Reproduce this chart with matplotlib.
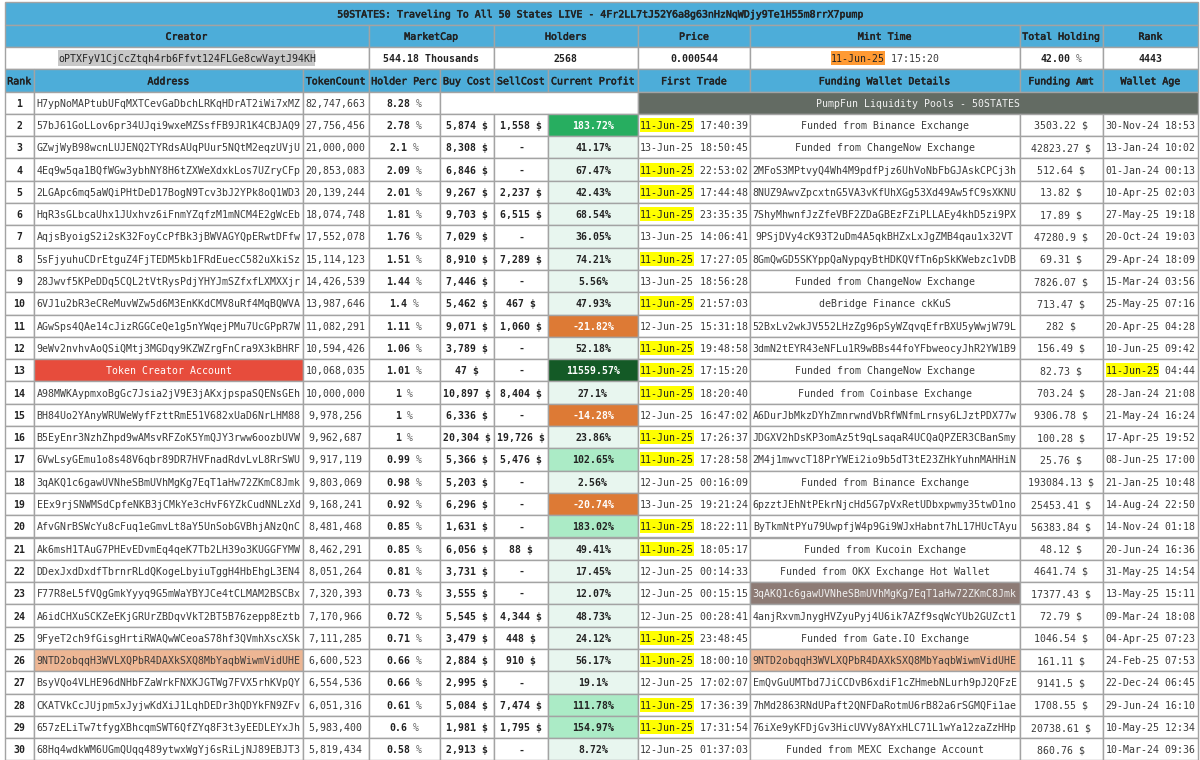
"""
Redraw the 50STATES token holder table as a matplotlib figure.
"""

import matplotlib

matplotlib.use("Agg")
import matplotlib.patheffects as path_effects
import matplotlib.pyplot as plt
from matplotlib.patches import Rectangle

TITLE = "50STATES: Traveling To All 50 States LIVE - 4Fr2LL7tJ52Y6a8g63nHzNqWDjy9Te1H55m8rrX7pump"

summary_headers = ["Creator", "MarketCap", "Holders", "Price", "Mint Time", "Total Holding", "Rank"]
creator = "oPTXFyV1CjCcZtqh4rb6Ffvt124FLGe8cwVaytJ94KH"
market_cap = "544.18 Thousands"
holders = "2568"
price = "0.000544"
mint_time = "11-Jun-25 17:15:20"
total_holding = "42.00"
token_rank = "4443"

table_headers = ["Rank", "Address", "TokenCount", "Holder Perc", "Buy Cost", "SellCost",
                 "Current Profit", "First Trade", "Funding Wallet Details", "Funding Amt", "Wallet Age"]

pool_label = "PumpFun Liquidity Pools - 50STATES"
creator_label = "Token Creator Account"

addresses = [
    "H7ypNoMAPtubUFqMXTCevGaDbchLRKqHDrAT2iWi7xMZ", "57bJ61GoLLov6pr34UJqi9wxeMZSsfFB9JR1K4CBJAQ9",
    "GZwjWyB98wcnLUJENQ2TYRdsAUqPUur5NQtM2eqzUVjU", "4Eq9w5qa1BQfWGw3ybhNY8H6tZXWeXdxkLos7UZryCFp",
    "2LGApc6mq5aWQiPHtDeD17BogN9Tcv3bJ2YPk8oQ1WD3", "HqR3sGLbcaUhx1JUxhvz6iFnmYZqfzM1mNCM4E2gWcEb",
    "AqjsByoigS2i2sK32FoyCcPfBk3jBWVAGYQpERwtDFfw", "5sFjyuhuCDrEtguZ4FjTEDM5kb1FRdEuecC582uXkiSz",
    "28Jwvf5KPeDDq5CQL2tVtRysPdjYHYJmSZfxfLXMXXjr", "6VJ1u2bR3eCReMuvWZw5d6M3EnKKdCMV8uRf4MqBQWVA",
    "AGwSps4QAe14cJizRGGCeQe1g5nYWqejPMu7UcGPpR7W", "9eWv2nvhvAoQSiQMtj3MGDqy9KZWZrgFnCra9X3kBHRF",
    creator_label, "A98MWKAypmxoBgGc7Jsia2jV9E3jAKxjpspaSQENsGEh",
    "BH84Uo2YAnyWRUWeWyfFzttRmE51V682xUaD6NrLHM88", "B5EyEnr3NzhZhpd9wAMsvRFZoK5YmQJY3rww6oozbUVW",
    "6VwLsyGEmu1o8s48V6qbr89DR7HVFnadRdvLvL8RrSWU", "3qAKQ1c6gawUVNheSBmUVhMgKg7EqT1aHw72ZKmC8Jmk",
    "EEx9rjSNWMSdCpfeNKB3jCMkYe3cHvF6YZkCudNNLzXd", "AfvGNrBSWcYu8cFuq1eGmvLt8aY5UnSobGVBhjANzQnC",
    "Ak6msH1TAuG7PHEvEDvmEq4qeK7Tb2LH39o3KUGGFYMW", "DDexJxdDxdfTbrnrRLdQKogeLbyiuTggH4HbEhgL3EN4",
    "F77R8eL5fVQgGmkYyyq9G5mWaYBYJCe4tCLMAM2BSCBx", "A6idCHXuSCKZeEKjGRUrZBDqvVkT2BT5B76zepp8Eztb",
    "9FyeT2ch9fGisgHrtiRWAQwWCeoaS78hf3QVmhXscXSk", "9NTD2obqqH3WVLXQPbR4DAXkSXQ8MbYaqbWiwmVidUHE",
    "BsyVQo4VLHE96dNHbFZaWrkFNXKJGTWg7FVX5rhKVpQY", "CKATVkCcJUjpm5xJyjwKdXiJ1LqhDEDr3hQDYkFN9ZFv",
    "657zELiTw7tfygXBhcqmSWT6QfZYq8F3t3yEEDLEYxJh", "68Hq4wdkWM6UGmQUqq489ytwxWgYj6sRiLjNJ89EBJT3",
]
token_counts = [
    "82,747,663", "27,756,456", "21,000,000", "20,853,083", "20,139,244", "18,074,748",
    "17,552,078", "15,114,123", "14,426,539", "13,987,646", "11,082,291", "10,594,426",
    "10,068,035", "10,000,000", "9,978,256", "9,962,687", "9,917,119", "9,803,069",
    "9,168,241", "8,481,468", "8,462,291", "8,051,264", "7,320,393", "7,170,966",
    "7,111,285", "6,600,523", "6,554,536", "6,051,316", "5,983,400", "5,819,434",
]
holder_percs = [
    "8.28", "2.78", "2.1", "2.09", "2.01", "1.81", "1.76", "1.51", "1.44", "1.4",
    "1.11", "1.06", "1.01", "1", "1", "1", "0.99", "0.98", "0.92", "0.85",
    "0.85", "0.81", "0.73", "0.72", "0.71", "0.66", "0.66", "0.61", "0.6", "0.58",
]
buy_costs = [
    None, "5,874", "8,308", "6,846", "9,267", "9,703", "7,029", "8,910", "7,446", "5,462",
    "9,071", "3,789", "47", "10,897", "6,336", "20,304", "5,366", "5,203", "6,296", "1,631",
    "6,056", "3,731", "3,555", "5,545", "3,479", "2,884", "2,995", "5,084", "1,981", "2,913",
]
sell_costs = [
    None, "1,558", None, None, "2,237", "6,515", None, "7,289", None, "467",
    "1,060", None, None, "8,404", None, "19,726", "5,476", None, None, None,
    "88", None, None, "4,344", "448", "910", None, "7,474", "1,795", None,
]
profits = [
    None, "183.72", "41.17", "67.47", "42.43", "68.54", "36.05", "74.21", "5.56", "47.93",
    "-21.82", "52.18", "11559.57", "27.1", "-14.28", "23.86", "102.65", "2.56", "-20.74", "183.02",
    "49.41", "17.45", "12.07", "48.73", "24.12", "56.17", "19.1", "111.78", "154.97", "8.72",
]
first_trades = [
    None, "11-Jun-25 17:40:39", "13-Jun-25 18:50:45", "11-Jun-25 22:53:02", "11-Jun-25 17:44:48",
    "11-Jun-25 23:35:35", "13-Jun-25 14:06:41", "11-Jun-25 17:27:05", "13-Jun-25 18:56:28",
    "11-Jun-25 21:57:03", "12-Jun-25 15:31:18", "11-Jun-25 19:48:58", "11-Jun-25 17:15:20",
    "11-Jun-25 18:20:40", "12-Jun-25 16:47:02", "11-Jun-25 17:26:37", "11-Jun-25 17:28:58",
    "12-Jun-25 00:16:09", "13-Jun-25 19:21:24", "11-Jun-25 18:22:11", "11-Jun-25 18:05:17",
    "12-Jun-25 00:14:33", "12-Jun-25 00:15:15", "12-Jun-25 00:28:41", "11-Jun-25 23:48:45",
    "11-Jun-25 18:00:10", "12-Jun-25 17:02:07", "11-Jun-25 17:36:39", "11-Jun-25 17:31:54",
    "12-Jun-25 01:37:03",
]
funding_details = [
    None, "Funded from Binance Exchange", "Funded from ChangeNow Exchange",
    "2MFoS3MPtvyQ4Wh4M9pdfPjz6UhVoNbFbGJAskCPCj3h", "8NUZ9AwvZpcxtnG5VA3vKfUhXGg53Xd49Aw5fC9sXKNU",
    "7ShyMhwnfJzZfeVBF2ZDaGBEzFZiPLLAEy4khD5zi9PX", "9PSjDVy4cK93T2uDm4A5qkBHZxLxJgZMB4qau1x32VT",
    "8GmQwGD5SKYppQaNypqyBtHDKQVfTn6pSkKWebzc1vDB", "Funded from ChangeNow Exchange",
    "deBridge Finance ckKuS", "52BxLv2wkJV552LHzZg96pSyWZqvqEfrBXU5yWwjW79L",
    "3dmN2tEYR43eNFLu1R9wBBs44foYFbweocyJhR2YW1B9", "Funded from ChangeNow Exchange",
    "Funded from Coinbase Exchange", "A6DurJbMkzDYhZmnrwndVbRfWNfmLrnsy6LJztPDX77w",
    "JDGXV2hDsKP3omAz5t9qLsaqaR4UCQaQPZER3CBanSmy", "2M4j1mwvcT18PrYWEi2io9b5dT3tE23ZHkYuhnMAHHiN",
    "Funded from Binance Exchange", "6pzztJEhNtPEkrNjcHd5G7pVxRetUDbxpwmy35twD1no",
    "ByTkmNtPYu79UwpfjW4p9Gi9WJxHabnt7hL17HUcTAyu", "Funded from Kucoin Exchange",
    "Funded from OKX Exchange Hot Wallet", "3qAKQ1c6gawUVNheSBmUVhMgKg7EqT1aHw72ZKmC8Jmk",
    "4anjRxvmJnygHVZyuPyj4U6ik7AZf9sqWcYUb2GUZct1", "Funded from Gate.IO Exchange",
    "9NTD2obqqH3WVLXQPbR4DAXkSXQ8MbYaqbWiwmVidUHE", "EmQvGuUMTbd7JiCCDvB6xdiF1cZHmebNLurh9pJ2QFzE",
    "7hMd2863RNdUPaft2QNFDaRotmU6rB82a6rSGMQFi1ae", "76iXe9yKFDjGv3HicUVVy8AYxHLC71L1wYa12zaZzHHp",
    "Funded from MEXC Exchange Account",
]
funding_amts = [
    None, "3503.22", "42823.27", "512.64", "13.82", "17.89", "47280.9", "69.31", "7826.07", "713.47",
    "282", "156.49", "82.73", "703.24", "9306.78", "100.28", "25.76", "193084.13", "25453.41", "56383.84",
    "48.12", "4641.74", "17377.43", "72.79", "1046.54", "161.11", "9141.5", "1708.55", "20738.61", "860.76",
]
wallet_ages = [
    None, "30-Nov-24 18:53", "13-Jan-24 10:02", "01-Jan-24 00:13", "10-Apr-25 02:03",
    "27-May-25 19:18", "20-Oct-24 19:03", "29-Apr-24 18:09", "15-Mar-24 03:56", "25-May-25 07:16",
    "20-Apr-25 04:28", "10-Jun-25 09:42", "11-Jun-25 04:44", "28-Jan-24 21:08", "21-May-24 16:24",
    "17-Apr-25 19:52", "08-Jun-25 17:00", "21-Jan-25 10:48", "14-Aug-24 22:50", "14-Nov-24 01:18",
    "20-Jun-24 16:36", "31-May-25 14:54", "13-May-25 15:11", "09-Mar-24 18:08", "04-Apr-25 07:23",
    "24-Feb-25 07:53", "22-Dec-24 06:45", "29-Jun-24 16:10", "10-May-25 12:34", "10-Mar-24 09:36",
]

# layout, in pixels of the 1200x760 output
COL_EDGES = [4.5, 34, 303, 368.5, 440, 494, 548, 638, 750, 1019.5, 1103, 1198]
SUMMARY_EDGES = [4.5, 368.5, 494, 638, 750, 1019.5, 1103, 1198]
TOP = 2.3
ROW_H = 22.3
FONT = "DejaVu Sans Mono"
FONT_PT = 7.15
CHAR_W = 5.98

HEADER_BLUE = "#4dadd9"
BORDER = "#a3a3a3"
TEXT = "#3a3a3a"
TEXT_BOLD = "#222222"
PEACH = "#edb694"
BROWN = "#8d7b75"
YELLOW = "#ffff00"


def profit_colors(value):
    """Background and text colour for a profit cell."""
    if value < 0:
        return "#dd7a35", "#ffffff"
    if value >= 1000:
        return "#145a26", "#ffffff"
    if value >= 183.5:
        return "#27ae60", "#ffffff"
    if value >= 100:
        return "#abebc6", TEXT_BOLD
    return "#e8f6ef", TEXT_BOLD


def row_mid(row):
    return TOP + (row + 0.5) * ROW_H


def draw_cell(ax, x0, x1, row, facecolor="white"):
    ax.add_patch(Rectangle((x0, TOP + row * ROW_H), x1 - x0, ROW_H, facecolor=facecolor,
                           edgecolor=BORDER, linewidth=1.0, zorder=1))


def put_text(ax, x, row, text, color=TEXT, bold=False, ha="center"):
    return ax.text(x, row_mid(row), text, ha=ha, va="center_baseline", color=color, family=FONT,
                   fontsize=FONT_PT, weight="bold" if bold else "normal", zorder=3)


def put_header(ax, x, row, text):
    """Header text: a regular face thickened a little, between regular and bold."""
    label = put_text(ax, x, row, text, TEXT_BOLD)
    label.set_path_effects([path_effects.withStroke(linewidth=0.35, foreground=TEXT_BOLD)])


def put_marked(ax, cx, row, text, mark_len, mark_color, height=14):
    """Centered text with a coloured marker behind its first mark_len characters."""
    left = cx - len(text) * CHAR_W / 2
    if mark_color:
        ax.add_patch(Rectangle((left, row_mid(row) - height / 2), mark_len * CHAR_W, height,
                               facecolor=mark_color, edgecolor="none", zorder=2))
    put_text(ax, left, row, text[:mark_len], TEXT_BOLD if mark_color else TEXT, ha="left")
    put_text(ax, left + mark_len * CHAR_W, row, text[mark_len:], ha="left")


def put_percent(ax, cx, row, number):
    """Bold number followed by a lighter percent sign."""
    left = cx - (len(number) + 2) * CHAR_W / 2
    put_text(ax, left, row, number, TEXT_BOLD, bold=True, ha="left")
    put_text(ax, left + (len(number) + 1) * CHAR_W, row, "%", "#666666", ha="left")


def center(edges, i):
    return (edges[i] + edges[i + 1]) / 2


def day_mark(stamp):
    return YELLOW if stamp.startswith("11-Jun-25") else None


def main():
    fig = plt.figure(figsize=(12, 7.6), dpi=100)
    ax = fig.add_axes([0, 0, 1, 1])
    ax.set_xlim(0, 1200)
    ax.set_ylim(760, 0)
    ax.axis("off")

    # title bar
    draw_cell(ax, COL_EDGES[0], COL_EDGES[-1], 0, HEADER_BLUE)
    put_header(ax, (COL_EDGES[0] + COL_EDGES[-1]) / 2, 0, TITLE)

    # token summary
    summary_values = [None, market_cap, holders, price, None, None, token_rank]
    for i, header in enumerate(summary_headers):
        draw_cell(ax, SUMMARY_EDGES[i], SUMMARY_EDGES[i + 1], 1, HEADER_BLUE)
        put_header(ax, center(SUMMARY_EDGES, i), 1, header)
        draw_cell(ax, SUMMARY_EDGES[i], SUMMARY_EDGES[i + 1], 2)
        if summary_values[i]:
            put_text(ax, center(SUMMARY_EDGES, i), 2, summary_values[i], TEXT_BOLD, bold=True)
    put_marked(ax, center(SUMMARY_EDGES, 0), 2, creator, len(creator), "#c8c8c8", height=16)
    put_marked(ax, center(SUMMARY_EDGES, 4), 2, mint_time, 9, "#ff9a33")
    put_percent(ax, center(SUMMARY_EDGES, 5), 2, total_holding)

    # holder table header
    for i, header in enumerate(table_headers):
        draw_cell(ax, COL_EDGES[i], COL_EDGES[i + 1], 3, HEADER_BLUE)
        put_header(ax, center(COL_EDGES, i), 3, header)

    # holder rows
    for i, address in enumerate(addresses):
        row = i + 4
        draw_cell(ax, COL_EDGES[0], COL_EDGES[1], row)
        put_text(ax, center(COL_EDGES, 0), row, str(i + 1), TEXT_BOLD, bold=True)

        if address == creator_label:
            draw_cell(ax, COL_EDGES[1], COL_EDGES[2], row, "#e74c3c")
            put_text(ax, center(COL_EDGES, 1), row, address, "white")
        else:
            # a holder funded by its own wallet gets the peach marker
            draw_cell(ax, COL_EDGES[1], COL_EDGES[2], row, PEACH if address == funding_details[i] else "white")
            put_text(ax, center(COL_EDGES, 1), row, address)

        draw_cell(ax, COL_EDGES[2], COL_EDGES[3], row)
        put_text(ax, center(COL_EDGES, 2), row, token_counts[i])
        draw_cell(ax, COL_EDGES[3], COL_EDGES[4], row)
        put_percent(ax, center(COL_EDGES, 3), row, holder_percs[i])

        # the first row is the liquidity pool, with merged cells
        if profits[i] is None:
            draw_cell(ax, COL_EDGES[4], COL_EDGES[7], row)
            draw_cell(ax, COL_EDGES[7], COL_EDGES[-1], row, "#636b63")
            put_text(ax, (COL_EDGES[7] + COL_EDGES[-1]) / 2, row, pool_label, "#f2f2f2")
            continue

        draw_cell(ax, COL_EDGES[4], COL_EDGES[5], row)
        put_text(ax, center(COL_EDGES, 4), row, buy_costs[i] + " $", TEXT_BOLD, bold=True)
        draw_cell(ax, COL_EDGES[5], COL_EDGES[6], row)
        put_text(ax, center(COL_EDGES, 5), row, sell_costs[i] + " $" if sell_costs[i] else "-", TEXT_BOLD, bold=True)

        face, ink = profit_colors(float(profits[i]))
        draw_cell(ax, COL_EDGES[6], COL_EDGES[7], row, face)
        put_text(ax, center(COL_EDGES, 6), row, profits[i] + "%", ink, bold=True)

        draw_cell(ax, COL_EDGES[7], COL_EDGES[8], row)
        put_marked(ax, center(COL_EDGES, 7), row, first_trades[i], 9, day_mark(first_trades[i]))

        detail = funding_details[i]
        if detail == address:
            draw_cell(ax, COL_EDGES[8], COL_EDGES[9], row, PEACH)
            put_text(ax, center(COL_EDGES, 8), row, detail)
        elif detail in addresses:
            draw_cell(ax, COL_EDGES[8], COL_EDGES[9], row, BROWN)
            put_text(ax, center(COL_EDGES, 8), row, detail, "#f2f2f2")
        else:
            draw_cell(ax, COL_EDGES[8], COL_EDGES[9], row)
            put_text(ax, center(COL_EDGES, 8), row, detail)

        draw_cell(ax, COL_EDGES[9], COL_EDGES[10], row)
        put_text(ax, center(COL_EDGES, 9), row, funding_amts[i] + " $")
        draw_cell(ax, COL_EDGES[10], COL_EDGES[11], row)
        put_marked(ax, center(COL_EDGES, 10), row, wallet_ages[i], 9, day_mark(wallet_ages[i]))

    fig.savefig("out.png", dpi=100, facecolor="white")
    plt.close(fig)


if __name__ == "__main__":
    main()
